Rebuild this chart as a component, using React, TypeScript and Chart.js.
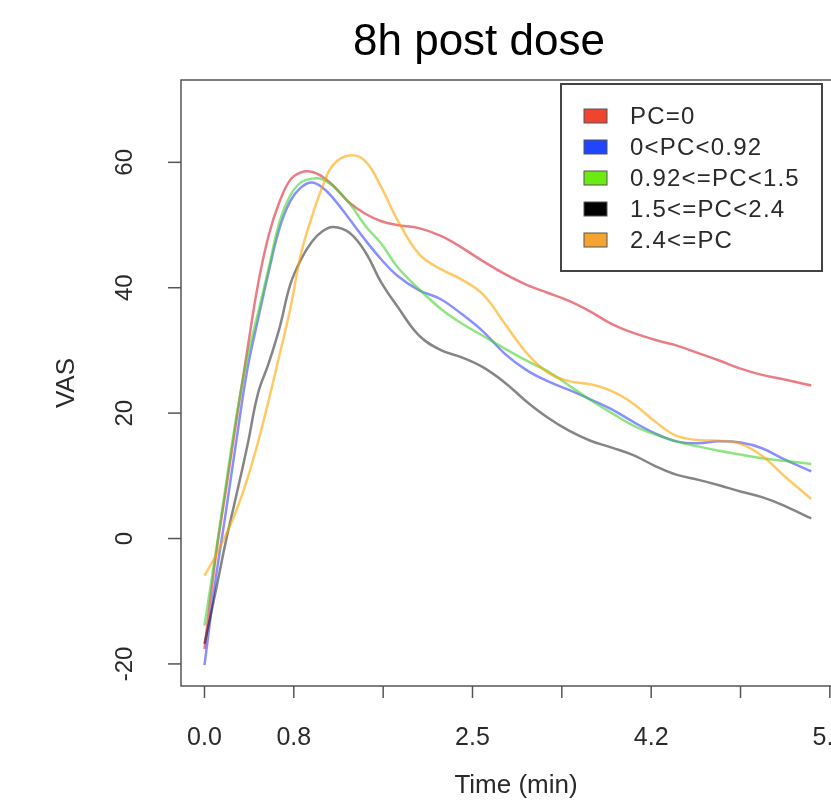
import React, { useEffect, useRef } from "react";
import { Chart, registerables } from "chart.js";

Chart.register(...registerables);

// Time (min)
const TIME = [0, 0.1, 0.2, 0.3, 0.4, 0.5, 0.6, 0.7, 0.8, 0.9, 1.0, 1.1, 1.2, 1.35, 1.5, 1.65, 1.8, 2.0, 2.2, 2.4, 2.6, 2.8, 3.0, 3.2, 3.4, 3.6, 3.8, 4.0, 4.2, 4.4, 4.6, 4.8, 5.0, 5.2, 5.4, 5.66];

const PC_ZERO = [-17.6, -3.5, 7.8, 19.1, 30.1, 40.6, 48.4, 53.7, 57.2, 58.4, 58.5, 57.7, 56.3, 53.6, 51.8, 50.6, 50.0, 49.5, 48.3, 46.4, 44.2, 42.2, 40.5, 39.2, 37.9, 36.2, 34.2, 32.8, 31.7, 30.8, 29.6, 28.4, 27.1, 26.1, 25.4, 24.4];
const PC_LOW = [-20.2, -7.0, 4.3, 15.9, 27.0, 35.0, 42.6, 49.5, 53.8, 56.0, 56.8, 56.0, 54.3, 51.0, 47.6, 44.5, 41.9, 39.6, 38.2, 35.8, 33.0, 29.5, 26.9, 25.1, 23.7, 22.2, 20.6, 18.6, 16.8, 15.5, 15.2, 15.5, 15.3, 14.4, 12.7, 10.7];
const PC_MID = [-13.9, -2.8, 8.6, 19.7, 28.9, 36.0, 43.2, 50.5, 54.7, 56.8, 57.4, 57.3, 56.2, 53.5, 49.9, 47.0, 43.3, 39.8, 36.7, 34.3, 32.3, 30.3, 28.4, 26.7, 24.4, 22.1, 20.0, 18.0, 16.6, 15.5, 14.7, 14.0, 13.4, 12.8, 12.4, 11.9];
const PC_HIGH = [-16.8, -8.8, -0.4, 7.1, 14.8, 23.2, 28.0, 33.6, 40.5, 44.5, 47.3, 49.0, 49.7, 48.8, 45.7, 40.8, 37.0, 32.4, 30.1, 28.9, 27.3, 24.9, 21.9, 19.3, 17.2, 15.6, 14.5, 13.3, 11.6, 10.2, 9.4, 8.5, 7.5, 6.6, 5.3, 3.2];
const PC_TOP = [-5.9, -2.9, 0.6, 4.6, 9.5, 15.4, 22.1, 29.3, 36.6, 45.4, 51.2, 56.1, 59.6, 61.1, 60.2, 56.0, 50.8, 45.4, 43.0, 41.3, 38.9, 34.3, 29.7, 26.5, 25.1, 24.6, 23.5, 21.5, 18.7, 16.4, 15.7, 15.6, 15.1, 13.2, 10.1, 6.3];

const SERIES_LABELS = ["PC=0", "0<PC<0.92", "0.92<=PC<1.5", "1.5<=PC<2.4", "2.4<=PC"];
const SERIES_VALUES = [PC_ZERO, PC_LOW, PC_MID, PC_HIGH, PC_TOP];
const LINE_COLORS = ["rgba(220,30,45,0.58)", "rgba(30,40,255,0.52)", "rgba(60,210,40,0.58)", "rgba(0,0,0,0.48)", "rgba(255,165,0,0.6)"];
const SWATCH_COLORS = ["#EE4430", "#1F45FF", "#6CEB12", "#000000", "#F5A431"];

const X_TICKS = [0, 0.8333, 1.6667, 2.5, 3.3333, 4.1667, 5.0, 5.8333];
const X_TICK_LABELS = ["0.0", "0.8", "", "2.5", "", "4.2", "", "5.8"];
const Y_TICKS = [-20, 0, 20, 40, 60];
const Y_TICK_LABELS = ["-20", "0", "20", "40", "60"];

const TITLE = "8h post dose";
const X_TITLE = "Time (min)";
const Y_TITLE = "VAS";

const FONT = '"Liberation Sans", Arial, Helvetica, sans-serif';

const rStylePlugin = {
  id: "rStyle",
  afterDraw(chart: any) {
    const ctx = chart.ctx as CanvasRenderingContext2D;
    const { left, top, right, bottom } = chart.chartArea;
    const xs = chart.scales.x;
    const ys = chart.scales.y;
    ctx.save();

    // plot box
    ctx.strokeStyle = "#555555";
    ctx.lineWidth = 1.5;
    ctx.strokeRect(left, top, right - left, bottom - top);

    // x ticks
    ctx.fillStyle = "#2a2a2a";
    ctx.font = `25px ${FONT}`;
    ctx.textAlign = "center";
    ctx.textBaseline = "middle";
    X_TICKS.forEach((v, i) => {
      const px = xs.getPixelForValue(v);
      ctx.beginPath();
      ctx.moveTo(px, bottom);
      ctx.lineTo(px, bottom + 12);
      ctx.stroke();
      if (X_TICK_LABELS[i]) ctx.fillText(X_TICK_LABELS[i], px, bottom + 52);
    });

    // y ticks
    ctx.font = `24px ${FONT}`;
    Y_TICKS.forEach((v, i) => {
      const py = ys.getPixelForValue(v);
      ctx.beginPath();
      ctx.moveTo(left, py);
      ctx.lineTo(left - 13, py);
      ctx.stroke();
      ctx.save();
      ctx.translate(left - 56, py);
      ctx.rotate(-Math.PI / 2);
      ctx.fillText(Y_TICK_LABELS[i], 0, 0);
      ctx.restore();
    });

    // axis titles
    ctx.font = `26px ${FONT}`;
    ctx.fillText(X_TITLE, (left + right) / 2 + 7, bottom + 100);
    ctx.save();
    ctx.translate(left - 114, (top + bottom) / 2);
    ctx.rotate(-Math.PI / 2);
    ctx.fillText(Y_TITLE, 0, 0);
    ctx.restore();

    // main title
    ctx.fillStyle = "#000";
    ctx.font = `44px ${FONT}`;
    ctx.textBaseline = "alphabetic";
    ctx.fillText(TITLE, 479, 55);

    // legend
    const lx = right - 276;
    const ly = top + 4;
    const lw = 261;
    const lh = 187;
    ctx.fillStyle = "#ffffff";
    ctx.fillRect(lx, ly, lw, lh);
    ctx.strokeStyle = "#444444";
    ctx.lineWidth = 2;
    ctx.strokeRect(lx, ly, lw, lh);
    ctx.font = `24px ${FONT}`;
    (ctx as any).letterSpacing = "1.2px";
    ctx.textAlign = "left";
    ctx.textBaseline = "middle";
    SERIES_LABELS.forEach((lab, i) => {
      const cy = ly + 32 + i * 31;
      ctx.fillStyle = SWATCH_COLORS[i];
      ctx.fillRect(lx + 23, cy - 7, 23, 14);
      ctx.strokeStyle = "#555555";
      ctx.lineWidth = 1;
      ctx.strokeRect(lx + 23, cy - 7, 23, 14);
      ctx.fillStyle = "#2a2a2a";
      ctx.fillText(lab, lx + 69, cy + 1);
    });
    (ctx as any).letterSpacing = "0px";
    ctx.restore();
  },
};

export default function App() {
  const ref = useRef<HTMLCanvasElement>(null);
  useEffect(() => {
    const canvas = ref.current;
    if (!canvas) return;
    const n = SERIES_VALUES.length;
    const chart = new Chart(canvas, {
      type: "line",
      data: {
        datasets: SERIES_VALUES.map((vals, i) => ({
          label: SERIES_LABELS[i],
          data: TIME.map((t, j) => ({ x: t, y: vals[j] })),
          borderColor: LINE_COLORS[i],
          borderWidth: 2.5,
          pointRadius: 0,
          fill: false,
          tension: 0.4,
          order: n - i,
        })),
      },
      options: {
        responsive: false,
        animation: false,
        devicePixelRatio: 1,
        layout: { padding: { left: 181, top: 80, right: 63, bottom: 118 } },
        scales: {
          x: { type: "linear", min: -0.219, max: 5.9, display: false },
          y: { type: "linear", min: -23.52, max: 73.13, display: false },
        },
        plugins: {
          legend: { display: false },
          title: { display: false },
          tooltip: { enabled: false },
        },
      },
      plugins: [rStylePlugin],
    } as any);
    return () => chart.destroy();
  }, []);

  return (
    <div
      style={{
        position: "fixed",
        left: 0,
        top: 0,
        width: 831,
        height: 804,
        overflow: "hidden",
        background: "#ffffff",
      }}
    >
      <canvas ref={ref} width={900} height={804} style={{ display: "block", width: 900, height: 804 }} />
    </div>
  );
}
